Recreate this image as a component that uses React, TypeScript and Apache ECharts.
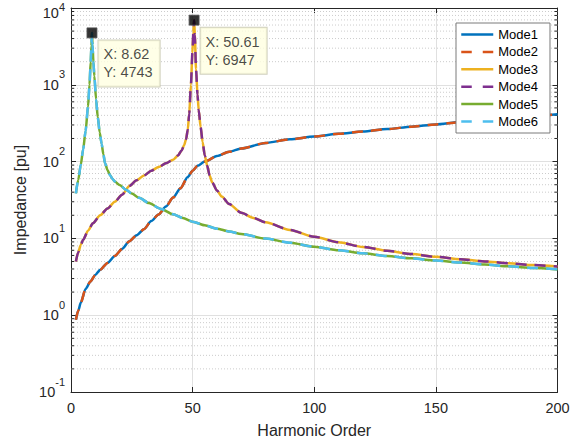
import React, { useEffect, useRef } from 'react';
import * as echarts from 'echarts';

// Curve shared by Mode1 / Mode2
const harmonicA = [2, 3, 4, 6, 8, 10, 12, 15, 18, 21, 24, 27, 30, 33, 36, 39, 42, 45, 48, 50, 52, 55, 60, 65, 70, 80, 90, 100, 110, 120, 130, 140, 150, 160, 170, 180, 190, 200];
const impedanceA = [0.87, 1.15, 1.45, 2.2, 2.75, 3.35, 3.9, 4.8, 5.9, 7.3, 9.2, 11.0, 13.2, 16.8, 20.5, 26, 34, 45, 63, 76, 88, 100, 118, 134, 148, 175, 195, 212, 230, 246, 265, 285, 305, 327, 348, 370, 391, 413];

// Curve shared by Mode3 / Mode4
const harmonicB = [2, 3, 4, 5, 7, 9, 12, 15, 18, 21, 24, 27, 30, 33, 36, 39, 42, 44, 45.5, 46.5, 47.3, 48, 48.6, 49.3, 49.9, 50.3, 50.61, 50.9, 51.4, 52, 52.5, 53.3, 54.1, 55, 56, 57, 58, 60, 62, 65, 70, 75, 80, 90, 100, 110, 120, 130, 140, 150, 160, 170, 180, 190, 200];
const impedanceB = [5.0, 6.6, 8.2, 9.6, 12.6, 15.7, 20, 24.5, 30, 37, 48, 57, 66, 76, 85, 95, 106, 120, 140, 163, 195, 260, 420, 1000, 2600, 4800, 6947, 4500, 1600, 750, 470, 280, 180, 120, 88, 66, 54, 42, 35, 28, 21.5, 18.5, 16.2, 12.9, 10.5, 8.9, 7.75, 6.9, 6.25, 5.75, 5.35, 5.02, 4.74, 4.5, 4.3];

// Curve shared by Mode5 / Mode6
const harmonicC = [2, 3, 4, 5, 6, 7, 7.6, 8.1, 8.4, 8.62, 8.85, 9.2, 9.6, 10.3, 11, 11.8, 12.6, 13.3, 14, 15, 16, 17, 18, 20, 22.6, 25, 28, 32, 37, 42, 46, 50, 55, 60, 65, 70, 80, 90, 100, 110, 120, 130, 140, 150, 160, 170, 180, 190, 200];
const impedanceC = [38.6, 58, 90, 145, 250, 520, 1000, 2000, 3200, 4743, 3300, 2000, 1300, 650, 380, 240, 170, 125, 95, 78, 67, 60, 55, 49.5, 43.1, 38.4, 33.8, 28.9, 24.2, 20.6, 18.4, 16.5, 14.8, 13.4, 12.3, 11.4, 9.95, 8.8, 7.8, 7.0, 6.4, 5.9, 5.5, 5.15, 4.85, 4.58, 4.33, 4.12, 3.95];

const modeNames = ['Mode1', 'Mode2', 'Mode3', 'Mode4', 'Mode5', 'Mode6'];
const modeColors = ['#0072BD', '#D95319', '#EDB120', '#7E2F8E', '#77AC30', '#4DBEEE'];

const peakHarmonics = [8.62, 50.61];
const peakImpedances = [4743, 6947];

const decades = [0.1, 1, 10, 100, 1000];
const minorSteps = [2, 3, 4, 5, 6, 7, 8, 9];

const FONT = '"Liberation Sans", Arial, Helvetica, sans-serif';
const AXIS_COLOR = '#262626';
const CURVE_DASH = [11, 8];
const LEGEND_DASH = [10.5, 11];

function pairs(xs: number[], ys: number[]) {
  return xs.map((x, i) => [x, ys[i]]);
}

export default function App() {
  const ref = useRef<HTMLDivElement>(null);

  useEffect(() => {
    const chart = echarts.init(ref.current!, null, { renderer: 'svg' });
    const curves = [
      pairs(harmonicA, impedanceA),
      pairs(harmonicA, impedanceA),
      pairs(harmonicB, impedanceB),
      pairs(harmonicB, impedanceB),
      pairs(harmonicC, impedanceC),
      pairs(harmonicC, impedanceC),
    ];
    const minorValues: number[][] = [];
    decades.forEach((d) => minorSteps.forEach((m) => minorValues.push([0, m * d])));

    const lineSeries = modeNames.map((name, i) => ({
      name,
      type: 'line',
      data: curves[i],
      symbol: 'none',
      smooth: 0.25,
      smoothMonotone: 'x',
      silent: true,
      z: 3,
      lineStyle: {
        color: modeColors[i],
        width: 2.5,
        type: i % 2 === 1 ? CURVE_DASH : 'solid',
        cap: 'butt',
      },
      itemStyle: { color: modeColors[i] },
      emphasis: { disabled: true },
    }));

    const option: any = {
      animation: false,
      textStyle: { fontFamily: FONT },
      grid: { left: 71, top: 8, width: 486.5, height: 384, containLabel: false, outerBoundsMode: 'none' },
      legend: {
        data: modeNames.map((name, i) => ({
          name,
          lineStyle: { color: modeColors[i], width: 2.5, type: i % 2 === 1 ? LEGEND_DASH : 'solid' },
        })),
        orient: 'vertical',
        left: 456,
        top: 23,
        itemWidth: 32,
        itemHeight: 14,
        itemGap: 4.4,
        padding: [5, 12, 5, 4],
        borderColor: '#7a7a7a',
        borderWidth: 1,
        backgroundColor: '#ffffff',
        itemStyle: { opacity: 0, borderWidth: 0 },
        textStyle: { fontSize: 13, color: '#000', fontFamily: FONT },
        selectedMode: false,
      },
      xAxis: [
        {
          type: 'value',
          min: 0,
          max: 200,
          interval: 50,
          position: 'bottom',
          name: 'Harmonic Order',
          nameLocation: 'middle',
          nameGap: 30,
          nameTextStyle: { fontSize: 16, color: AXIS_COLOR, fontFamily: FONT },
          axisLine: { show: true, onZero: false, lineStyle: { color: AXIS_COLOR, width: 1 } },
          axisTick: { show: true, inside: true, length: 5, lineStyle: { color: AXIS_COLOR } },
          axisLabel: { color: AXIS_COLOR, fontSize: 14.5, margin: 8, fontFamily: FONT },
          splitLine: { show: true, lineStyle: { color: '#e0e0e0', width: 1 } },
        },
        {
          type: 'value',
          min: 0,
          max: 200,
          interval: 50,
          position: 'top',
          axisLine: { show: true, onZero: false, lineStyle: { color: AXIS_COLOR, width: 1 } },
          axisTick: { show: true, inside: true, length: 5, lineStyle: { color: AXIS_COLOR } },
          axisLabel: { show: false },
          splitLine: { show: false },
        },
      ],
      yAxis: [
        {
          type: 'log',
          logBase: 10,
          min: 0.1,
          max: 10000,
          position: 'left',
          name: 'Impedance [pu]',
          nameLocation: 'middle',
          nameGap: 40,
          nameTextStyle: { fontSize: 16, color: AXIS_COLOR, fontFamily: FONT },
          axisLine: { show: true, onZero: false, lineStyle: { color: AXIS_COLOR, width: 1 } },
          axisTick: { show: true, inside: true, length: 5, lineStyle: { color: AXIS_COLOR } },
          axisLabel: {
            margin: 6,
            formatter: (v: number) => {
              const e = Math.round(Math.log10(v));
              return e === 4 ? `{bt|10}{st|${e}}` : `{b|10}{s|${e}}`;
            },
            rich: {
              b: { fontSize: 14.5, color: AXIS_COLOR, fontFamily: FONT },
              s: { fontSize: 11, color: AXIS_COLOR, fontFamily: FONT, padding: [0, 0, 21, 0] },
              bt: { fontSize: 14.5, color: AXIS_COLOR, fontFamily: FONT, padding: [10, 0, 0, 0] },
              st: { fontSize: 11, color: AXIS_COLOR, fontFamily: FONT, padding: [0, 0, 3, 0] },
            },
          },
          splitLine: { show: true, lineStyle: { color: '#e0e0e0', width: 1 } },
        },
        {
          type: 'log',
          logBase: 10,
          min: 0.1,
          max: 10000,
          position: 'right',
          axisLine: { show: true, onZero: false, lineStyle: { color: AXIS_COLOR, width: 1 } },
          axisTick: { show: true, inside: true, length: 5, lineStyle: { color: AXIS_COLOR } },
          axisLabel: { show: false },
          splitLine: { show: false },
        },
      ],
      series: [
        {
          type: 'custom',
          name: 'minorGrid',
          silent: true,
          z: 1,
          data: minorValues,
          encode: { x: 0, y: 1 },
          renderItem: (params: any, api: any) => {
            const cs = params.coordSys;
            const y = api.coord([0, api.value(1)])[1];
            return {
              type: 'group',
              children: [
                { type: 'line', shape: { x1: cs.x, y1: y, x2: cs.x + cs.width, y2: y }, style: { stroke: '#cccccc', lineWidth: 1, lineDash: [1, 2] } },
                { type: 'line', shape: { x1: cs.x, y1: y, x2: cs.x + 3, y2: y }, style: { stroke: AXIS_COLOR, lineWidth: 1 } },
                { type: 'line', shape: { x1: cs.x + cs.width - 3, y1: y, x2: cs.x + cs.width, y2: y }, style: { stroke: AXIS_COLOR, lineWidth: 1 } },
              ],
            };
          },
        },
        ...lineSeries,
        {
          type: 'scatter',
          name: 'datatip',
          silent: true,
          z: 10,
          symbol: 'rect',
          symbolSize: 10,
          data: pairs(peakHarmonics, peakImpedances),
          itemStyle: { color: '#000000', borderColor: '#555555', borderWidth: 1 },
          label: {
            show: true,
            position: [12, 13],
            align: 'left',
            verticalAlign: 'top',
            formatter: (p: any) => `X: ${p.value[0]}\nY: ${p.value[1]}`,
            backgroundColor: '#ffffe1',
            borderColor: '#c4c4ac',
            borderWidth: 1,
            padding: [5, 7, 5, 5],
            lineHeight: 18,
            fontSize: 14.5,
            color: '#1a1a1a',
            fontFamily: FONT,
          },
          emphasis: { disabled: true },
        },
      ],
    };
    chart.setOption(option);
    return () => chart.dispose();
  }, []);

  return <div ref={ref} style={{ position: 'absolute', left: 0, top: 0, width: 579, height: 445 }} />;
}
